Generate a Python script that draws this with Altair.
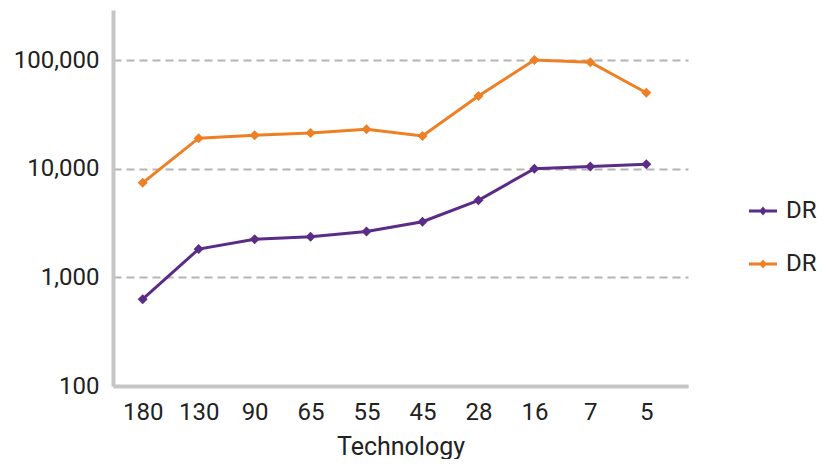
import altair as alt
import pandas as pd

technology = ["180", "130", "90", "65", "55", "45", "28", "16", "7", "5"]
series_names = ["DRAM A", "DRAM B"]
dram_a = [630, 1820, 2245, 2365, 2640, 3250, 5120, 10000, 10480, 10980]
dram_b = [7410, 19100, 20300, 21300, 23100, 20000, 46600, 100000, 95400, 50000]
y_ticks = [100, 1000, 10000, 100000]
colors = ["#5B2C87", "#EE7F22"]

rows = []
for name, vals in zip(series_names, [dram_a, dram_b]):
    for t, v in zip(technology, vals):
        rows.append({"Technology": t, "Series": name, "Value": v})
df = pd.DataFrame(rows)

# line segment drawn as a thin filled bar, plus a diamond
legend_symbol = "M-1,-0.1H1V0.1H-1ZM0,-0.32L0.27,0L0,0.32L-0.27,0Z"

x_enc = alt.X("Technology:N", sort=technology,
              scale=alt.Scale(type="point", padding=0.638, align=0.416),
              axis=alt.Axis(title="Technology", labelAngle=0, ticks=False, tickSize=0,
                            grid=False, labelPadding=14, titlePadding=10))
y_enc = alt.Y("Value:Q",
              scale=alt.Scale(type="log", domain=[100, 288700], nice=False),
              axis=alt.Axis(title=None, values=y_ticks, format=",d", ticks=False, tickSize=0,
                            labelPadding=14, grid=True, gridDash=[8, 5],
                            gridColor="#b4b4b4", gridWidth=2))
color_scale = alt.Scale(domain=series_names, range=colors)

base = alt.Chart(df)

lines = base.mark_line(strokeWidth=3).encode(
    x=x_enc, y=y_enc,
    color=alt.Color("Series:N", sort=series_names, scale=color_scale, legend=None),
)

points = base.mark_point(shape="diamond", filled=True, size=100, opacity=1).encode(
    x=x_enc, y=y_enc,
    color=alt.Color("Series:N", sort=series_names, scale=color_scale,
                    legend=alt.Legend(title=None, orient="none", legendX=636, legendY=187,
                                      symbolType=legend_symbol, symbolSize=784,
                                      symbolOpacity=1, symbolStrokeWidth=0,
                                      labelOffset=9, rowPadding=27, padding=0,
                                      labelExpr="slice(datum.label, 0, 2)")),
)

chart = alt.layer(lines, points).resolve_legend(color="independent").properties(
    width=575, height=376,
    padding={"left": 5, "top": 2, "right": 0, "bottom": 0},
).configure_view(
    stroke=None
).configure_axis(
    domainColor="#c6c6c6", domainWidth=4,
    labelFont="Roboto", labelFontSize=24, labelColor="#222222",
    titleFont="Roboto", titleFontSize=25, titleFontWeight="normal", titleColor="#222222",
).configure_legend(
    labelFont="Roboto", labelFontSize=24, labelColor="#222222",
)

chart.save("out.html", embed_options={"renderer": "svg", "actions": False})
